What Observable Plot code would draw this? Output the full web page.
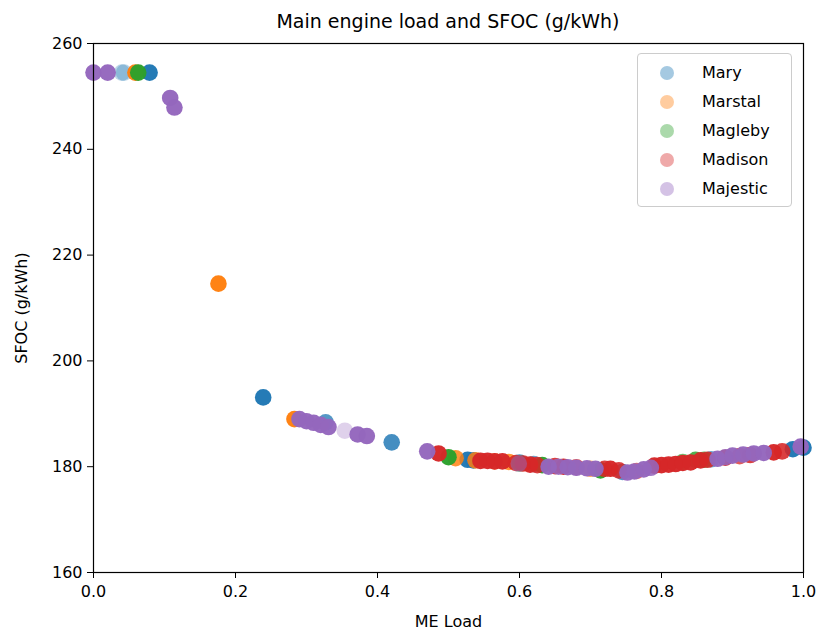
<!DOCTYPE html>
<html>
<head>
<meta charset="utf-8">
<script src="https://cdn.jsdelivr.net/npm/d3@7"></script>
<script src="https://cdn.jsdelivr.net/npm/@observablehq/plot@0.6"></script>
<style>
  body { margin: 0; background: #fff; }
  #wrap { position: relative; width: 819px; height: 630px; font-family: "DejaVu Sans", sans-serif; }
  #title { position: absolute; left: 93px; width: 710px; top: 10px; text-align: center; font-size: 19px; color: #000; }
  #legend { position: absolute; left: 637px; top: 53px; width: 155px; height: 154px; border: 1px solid #cccccc; border-radius: 4px; background: rgba(255,255,255,0.8); box-sizing: border-box; }
  .item { position: absolute; left: 0; height: 29px; display: flex; align-items: center; font-size: 16px; color: #000; }
  .sw { display: inline-block; width: 14px; height: 14px; border-radius: 50%; margin-left: 22px; margin-right: 28px; }
</style>
</head>
<body>
<div id="wrap">
  <div id="chart"></div>
  <div id="title">Main engine load and SFOC (g/kWh)</div>
  <div id="legend"></div>
</div>
<script>
// Ships in drawing order (later ones are drawn on top)
const ships = ["Mary", "Marstal", "Magleby", "Madison", "Majestic"];
const shipColors = ["#1f77b4", "#ff7f0e", "#2ca02c", "#d62728", "#9467bd"];

// Readings per ship: [ME load, SFOC g/kWh, number of coinciding records]
const mary = [
  [0.040, 254.5, 1], [0.043, 254.5, 1], [0.079, 254.5, 10], [0.239, 193.1, 10],
  [0.327, 188.4, 4], [0.420, 184.6, 5], [0.527, 181.3, 10], [0.535, 181.2, 8],
  [0.600, 180.8, 4], [0.620, 180.5, 3], [0.745, 179.0, 4], [0.870, 181.4, 3],
  [0.985, 183.3, 10], [1.000, 183.6, 10]
];
const marstal = [
  [0.059, 254.5, 10], [0.176, 214.6, 10], [0.283, 189.0, 10], [0.510, 181.6, 5],
  [0.538, 181.2, 5], [0.565, 181.0, 3], [0.585, 180.9, 5], [0.700, 179.6, 3]
];
const magleby = [
  [0.063, 254.5, 10], [0.500, 181.8, 10], [0.600, 180.6, 3], [0.632, 180.3, 10],
  [0.714, 179.3, 10], [0.830, 180.9, 3], [0.848, 181.3, 5], [0.860, 181.3, 4]
];
const madison = [
  [0.486, 182.5, 10], [0.545, 181.1, 10], [0.555, 181.1, 10], [0.565, 181.0, 10],
  [0.576, 181.0, 10], [0.595, 180.7, 6], [0.605, 180.6, 6], [0.615, 180.4, 10],
  [0.625, 180.3, 6], [0.650, 180.1, 6], [0.662, 180.0, 10], [0.680, 179.9, 4],
  [0.720, 179.6, 6], [0.728, 179.6, 10], [0.740, 179.3, 6], [0.765, 179.2, 3],
  [0.790, 180.2, 10], [0.800, 180.3, 10], [0.810, 180.4, 10], [0.820, 180.5, 10],
  [0.830, 180.7, 10], [0.841, 180.8, 10], [0.855, 181.2, 10], [0.865, 181.3, 6],
  [0.890, 181.7, 10], [0.910, 182.0, 4], [0.925, 182.2, 6], [0.958, 182.7, 10],
  [0.970, 182.9, 6]
];
const majestic = [
  [0.000, 254.5, 10], [0.020, 254.5, 10], [0.108, 249.7, 10], [0.114, 247.9, 10],
  [0.290, 189.0, 10], [0.300, 188.6, 10], [0.310, 188.3, 10], [0.320, 187.9, 10],
  [0.331, 187.5, 10], [0.354, 186.8, 1], [0.372, 186.1, 10], [0.385, 185.8, 10],
  [0.470, 182.9, 10], [0.599, 180.6, 2], [0.641, 180.0, 10], [0.655, 180.0, 6],
  [0.668, 179.9, 10], [0.680, 179.8, 10], [0.695, 179.7, 10], [0.707, 179.6, 10],
  [0.752, 178.9, 10], [0.762, 179.1, 10], [0.775, 179.5, 10], [0.785, 179.8, 6],
  [0.879, 181.5, 10], [0.890, 181.8, 6], [0.900, 182.1, 10], [0.915, 182.3, 10],
  [0.930, 182.5, 10], [0.944, 182.6, 10], [0.996, 183.8, 10]
];

const xTicks = [0, 0.2, 0.4, 0.6, 0.8, 1.0];
const yTicks = [160, 180, 200, 220, 240, 260];

const alpha = 0.3;
const series = [mary, marstal, magleby, madison, majestic];
const rows = series.flatMap((pts, i) =>
  pts.map(([load, sfoc, n]) => ({ship: ships[i], load, sfoc, n}))
);

const chart = Plot.plot({
  width: 819,
  height: 630,
  marginLeft: 93,
  marginRight: 16,
  marginTop: 43,
  marginBottom: 58,
  style: { fontFamily: "DejaVu Sans, sans-serif", fontSize: "16px", color: "#000", background: "#fff" },
  x: { domain: [0, 1] },
  y: { domain: [160, 260] },
  color: { domain: ships, range: shipColors },
  marks: [
    Plot.dot(rows, {
      x: "load", y: "sfoc", r: 8.3, fill: "ship", stroke: null,
      fillOpacity: d => 1 - Math.pow(1 - alpha, d.n)
    }),
    Plot.frame({ stroke: "#000", strokeWidth: 1.2 }),
    Plot.axisX({ ticks: xTicks, tickFormat: d3.format(".1f"), tickSize: 6, tickPadding: 7,
      label: "ME Load", labelAnchor: "center", labelArrow: "none", labelOffset: 54 }),
    Plot.axisY({ ticks: yTicks, tickSize: 6, tickPadding: 5,
      label: "SFOC (g/kWh)", labelAnchor: "center", labelArrow: "none", labelOffset: 78 })
  ]
});
document.getElementById("chart").appendChild(chart);

// Legend entries, drawn with the same translucency as a single record
const legend = d3.select("#legend");
ships.forEach((s, i) => {
  const item = legend.append("div").attr("class", "item").style("top", `${4 + i * 29}px`);
  item.append("span").attr("class", "sw")
    .style("background", d3.color(shipColors[i]).copy({opacity: 0.4}).formatRgb());
  item.append("span").text(s);
});
</script>
</body>
</html>
